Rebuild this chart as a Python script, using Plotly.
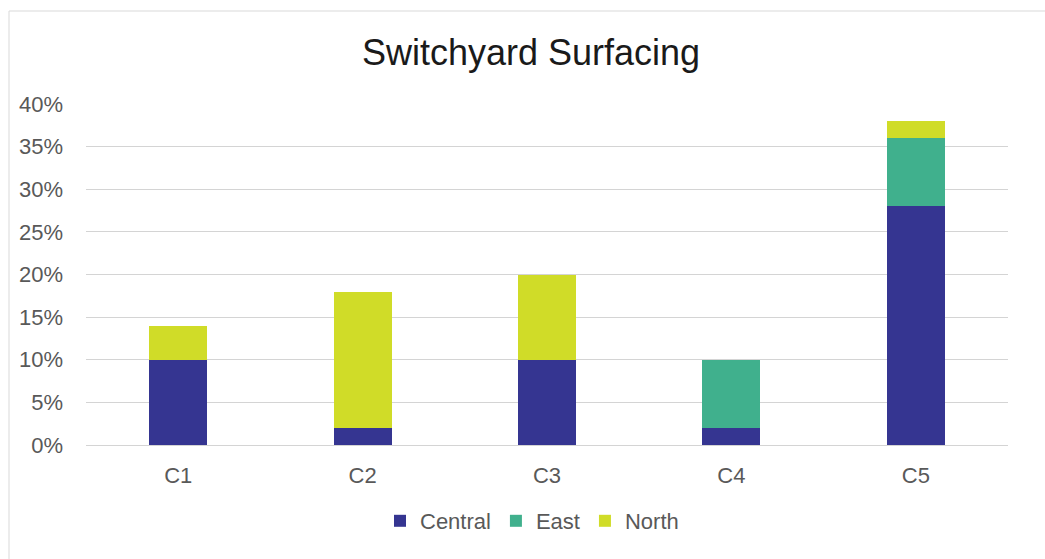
import plotly.graph_objects as go

# Share of surfacing by zone for each switchyard
categories = ["C1", "C2", "C3", "C4", "C5"]
central = [0.10, 0.02, 0.10, 0.02, 0.28]
east = [0.00, 0.00, 0.00, 0.08, 0.08]
north = [0.04, 0.16, 0.10, 0.00, 0.02]
y_ticks = [0, 0.05, 0.10, 0.15, 0.20, 0.25, 0.30, 0.35, 0.40]

colors = {"Central": "#353591", "East": "#40B08D", "North": "#D0DC28"}

W, H = 1045, 559
ML, MR, MT, MB = 86, 37, 104, 114
PW, PH = W - ML - MR, H - MT - MB

def px_x(p):
    return (p - ML) / PW

def px_y(p):
    return (H - MB - p) / PH

fig = go.Figure()
for name, vals in [("Central", central), ("East", east), ("North", north)]:
    fig.add_trace(go.Bar(
        x=categories, y=vals, name=name,
        marker=dict(color=colors[name], line=dict(width=0)),
        hoverinfo="x+y+name",
    ))

fig.update_layout(
    width=W, height=H,
    barmode="stack",
    bargap=0.686,
    paper_bgcolor="white",
    plot_bgcolor="white",
    margin=dict(l=ML, r=MR, t=MT, b=MB, pad=0),
    font=dict(family="Liberation Sans, Arial, sans-serif", color="#595959", size=22),
    title=dict(
        text="Switchyard Surfacing",
        font=dict(size=36, color="#1a1a1a"),
        x=531 / W, xanchor="center", xref="container",
        y=1 - 52 / H, yanchor="middle", yref="container",
    ),
    xaxis=dict(
        showgrid=False, zeroline=False, showline=False,
        ticks="", ticklabelstandoff=15,
        tickfont=dict(size=22, color="#595959"),
    ),
    yaxis=dict(
        range=[0, 0.40], tickvals=y_ticks, tickformat=".0%",
        showgrid=True, gridcolor="#d4d4d4", gridwidth=1.3,
        zeroline=True, zerolinecolor="#d4d4d4", zerolinewidth=1.3,
        showline=False, ticks="", ticklabelstandoff=22,
        tickfont=dict(size=22, color="#595959"),
    ),
    legend=dict(
        orientation="h",
        x=px_x(532), xanchor="center",
        y=px_y(521), yanchor="middle",
        font=dict(size=22, color="#595959"),
        itemwidth=30,
        traceorder="normal",
        bgcolor="rgba(0,0,0,0)",
    ),
    shapes=[dict(
        type="rect", xref="paper", yref="paper",
        x0=px_x(9), x1=px_x(1060), y0=px_y(575), y1=px_y(11),
        line=dict(color="#d9d9d9", width=1), fillcolor="rgba(0,0,0,0)",
        layer="below",
    )],
)

fig.write_html("out.html")
